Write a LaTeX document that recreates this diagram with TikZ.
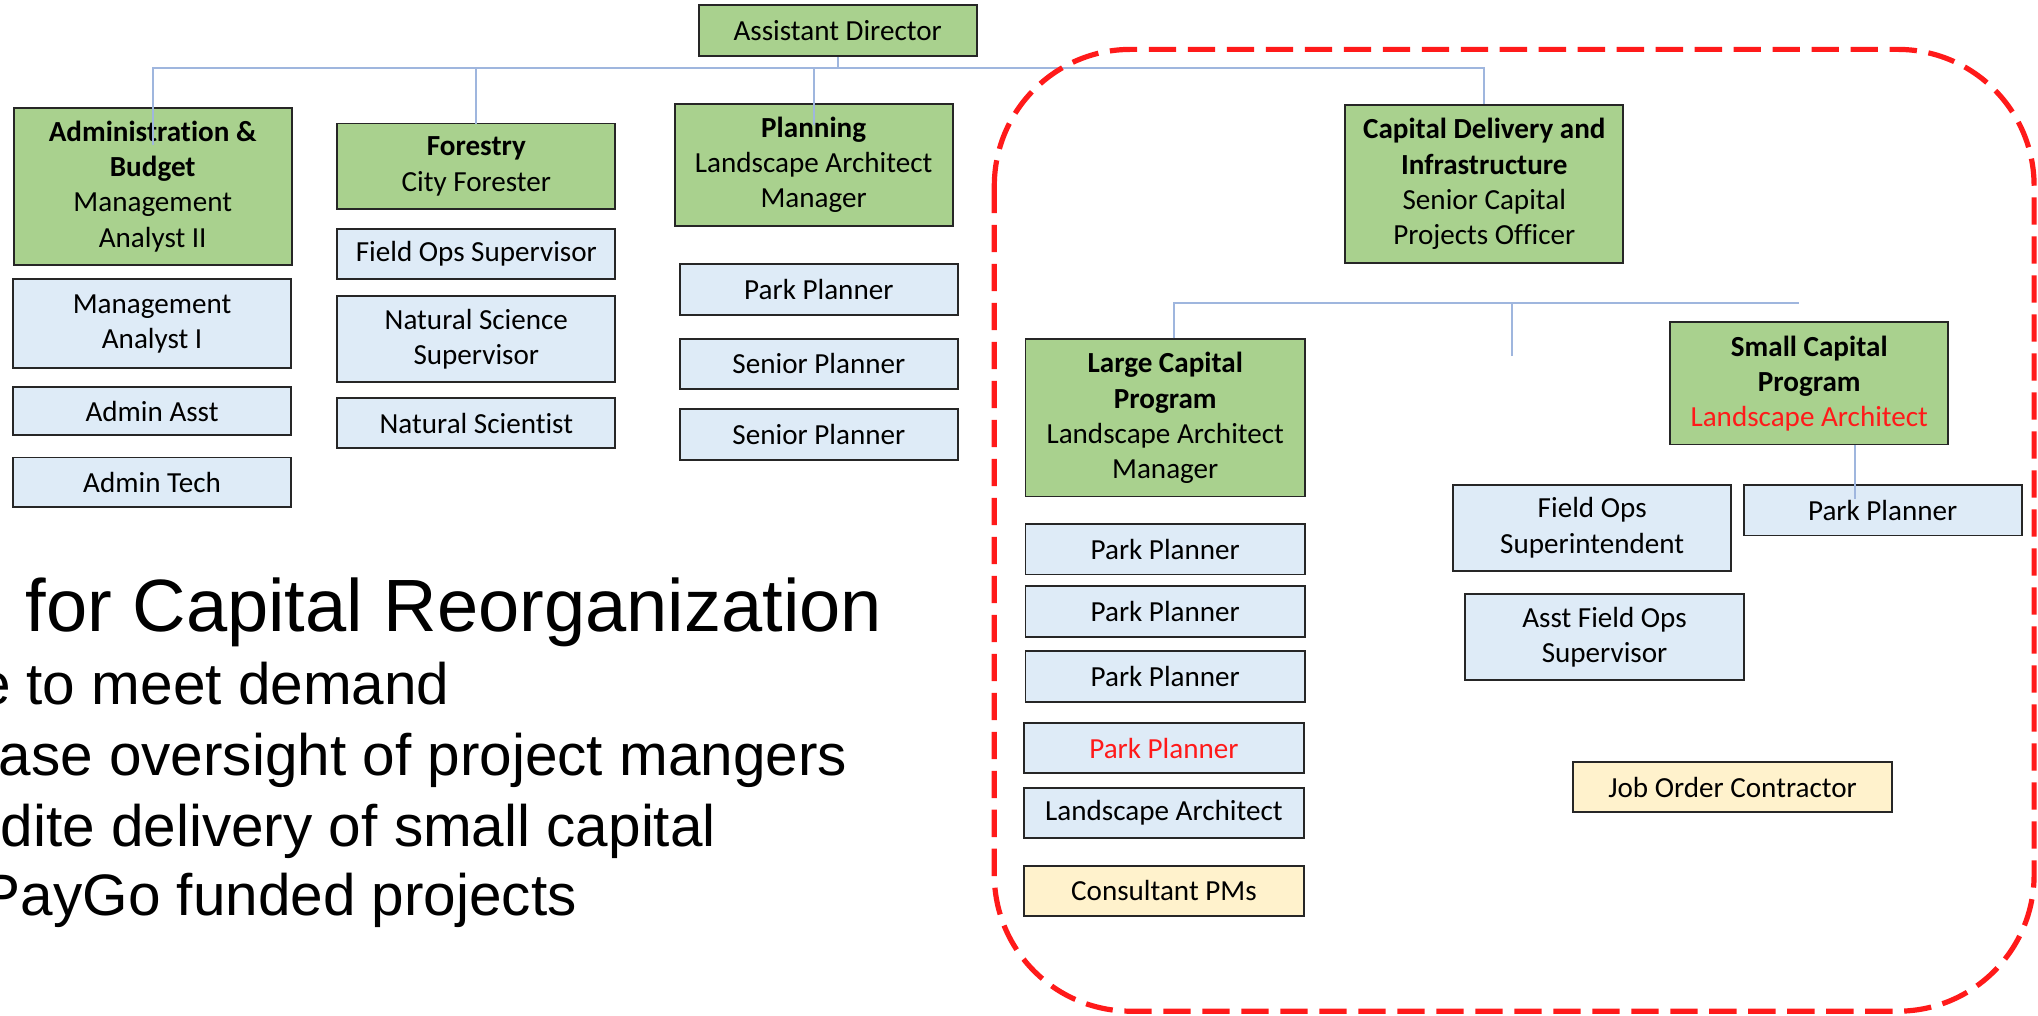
\documentclass[tikz,border=0pt]{standalone}
\usepackage{fontspec}
\setmainfont{Carlito}[Ligatures=CommonOff]
\newfontfamily\arialfont{Liberation Sans}
\usepackage{tikz}

\definecolor{headgreen}{HTML}{A9D18E}
\definecolor{staffblue}{HTML}{DEEBF7}
\definecolor{contractyellow}{HTML}{FFF2CC}
\definecolor{linkblue}{HTML}{9FB6DE}
\definecolor{newred}{HTML}{FF1A1A}

\begin{document}
\begin{tikzpicture}[x=1pt, y=-1pt,
        post/.style={draw=black!85, line width=1.5pt, minimum width=214pt, minimum height=39pt, inner sep=2pt, align=center, font=\fontsize{22.4}{27}\selectfont},
        head/.style={post, fill=headgreen},
        staff/.style={post, fill=staffblue},
        contract/.style={post, fill=contractyellow},
        link/.style={draw=linkblue, line width=1.6pt},
        bigtext/.style={anchor=base east, inner sep=0pt, font=\arialfont\fontsize{45}{54}\selectfont}]
        \useasboundingbox (0,0) rectangle (1568,781);

        \node[head] (director) at (644.5,23.5) {Assistant Director};

        \node[head, minimum height=121pt] (admin) at (117.5,143.5) {\textbf{Administration \&}\\\textbf{Budget}\\Management\\Analyst II};
        \node[staff, minimum height=68pt] (analyst) at (117,249) {Management\\Analyst I};
        \node[staff, minimum height=37pt] (asst) at (117,316.5) {Admin Asst};
        \node[staff, minimum height=38pt] (tech) at (117,371) {Admin Tech};

        \node[head, minimum height=66pt] (forestry) at (366.5,128) {\textbf{Forestry}\\City Forester};
        \node[staff] (fieldsup) at (366.5,195.5) {Field Ops Supervisor};
        \node[staff, minimum height=66pt] (natsup) at (366.5,261) {Natural Science\\Supervisor};
        \node[staff] (scientist) at (366.5,325.5) {Natural Scientist};

        \node[head, minimum height=94pt] (planning) at (626,127) {\textbf{Planning}\\Landscape Architect\\Manager};
        \node[staff] (planner) at (630,222.5) {Park Planner};
        \node[staff] (senior1) at (630,280) {Senior Planner};
        \node[staff] (senior2) at (630,334.5) {Senior Planner};

        \node[head, minimum height=121pt] (capital) at (1142,141.5) {\textbf{Capital Delivery and}\\\textbf{Infrastructure}\\Senior Capital\\Projects Officer};

        \node[head, minimum height=121pt, minimum width=215pt] (large) at (896.5,321.5) {\textbf{Large Capital}\\\textbf{Program}\\Landscape Architect\\Manager};
        \node[staff, minimum width=215pt] (lplanner1) at (896.5,422.5) {Park Planner};
        \node[staff, minimum width=215pt] (lplanner2) at (896.5,470.5) {Park Planner};
        \node[staff, minimum width=215pt] (lplanner3) at (896.5,520.5) {Park Planner};
        \node[staff, minimum width=215pt] (lplanner4) at (895.5,575.5) {\textcolor{newred}{Park Planner}};
        \node[staff, minimum width=215pt] (larchitect) at (895.5,625.5) {Landscape Architect};
        \node[contract, minimum width=215pt, minimum height=38pt] (consult) at (895.5,685.5) {Consultant PMs};

        \node[head, minimum height=94pt] (small) at (1392,295) {\textbf{Small Capital}\\\textbf{Program}\\\textcolor{newred}{Landscape Architect}};
        \node[staff, minimum height=66pt] (superint) at (1225,406) {Field Ops\\Superintendent};
        \node[staff] (splanner) at (1448.5,392.5) {Park Planner};
        \node[staff, minimum height=66pt, minimum width=215pt] (asstsup) at (1234.5,490) {Asst Field Ops\\Supervisor};
        \node[contract, minimum width=246pt] (joc) at (1333,605.5) {Job Order Contractor};

        % bus lines
        \coordinate (topbus) at (0,52);
        \coordinate (capbus) at (0,233);
        \coordinate (capend) at (1384,233);
        \coordinate (stub) at (1163,274);

        \draw[link] (director.south) -- (director.south |- topbus);
        \draw[link] ([yshift=-29pt]admin.north) -- (admin.north |- topbus) -- (capital.north |- topbus) -- (capital.north);
        \draw[link] ([yshift=-1pt]forestry.north) -- (forestry.north |- topbus);
        \draw[link] ([yshift=-17pt]planning.north) -- (planning.north |- topbus);
        \draw[link] ([xshift=6.5pt]large.north) |- (capend);
        \draw[link] (stub) -- (stub |- capbus);
        \draw[link] ([xshift=35pt]small.south) -- ([xshift=35pt,yshift=-12pt]small.south |- splanner.north);

        % capital group
        \draw[newred, line width=4pt, dash pattern=on 21pt off 9pt, rounded corners=105pt] (765,38) rectangle (1565,778);

        \node[bigtext, font=\arialfont\fontsize{57}{68}\selectfont] (reorg) at (679,486) {for Capital Reorganization};
        \node[bigtext] (demand) at (346,542) {e to meet demand};
        \node[bigtext] (oversight) at (652,596.5) {ase oversight of project mangers};
        \node[bigtext] (delivery) at (551,651) {dite delivery of small capital};
        \node[bigtext] (paygo) at (444,704) {PayGo funded projects};
\end{tikzpicture}
\end{document}
